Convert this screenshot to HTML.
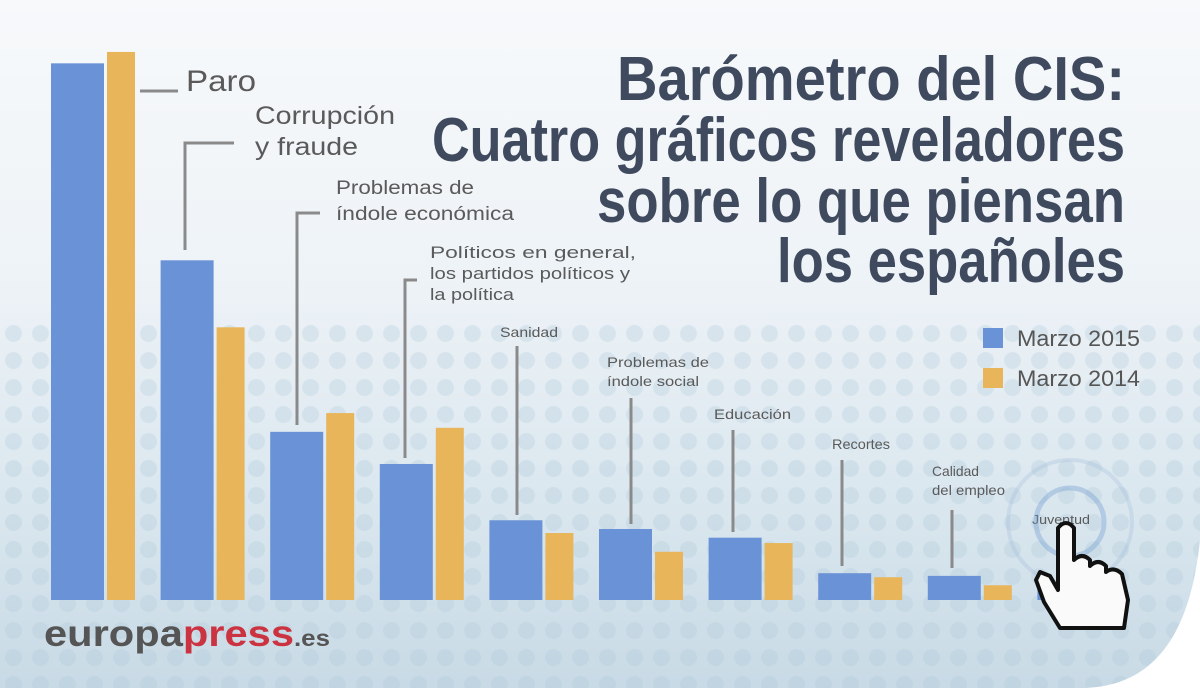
<!DOCTYPE html>
<html><head><meta charset="utf-8">
<style>
html,body{margin:0;padding:0;}
body{width:1200px;height:688px;overflow:hidden;position:relative;font-family:"Liberation Sans",sans-serif;
background:linear-gradient(180deg,#f7f9fb 0%,#eef3f7 40%,#d9e6ee 75%,#c8dae5 100%);}
#dots{position:absolute;left:0;top:320px;width:1200px;height:368px;
background-image:radial-gradient(circle,rgba(170,198,215,0.28) 8px,transparent 9px);background-size:27px 27px;}
svg{position:absolute;left:0;top:0;}
</style></head><body>
<div id="dots"></div>
<svg id="chart" width="1200" height="688">
 <path d="M1200,540 C1190,640 1150,688 1080,688 L1200,688 Z" fill="#ffffff"/>
 <g id="title" font-weight="bold" fill="#3f4a5e" font-size="62" lengthAdjust="spacingAndGlyphs">
  <text x="617" y="100" textLength="508" lengthAdjust="spacingAndGlyphs">Barómetro del CIS:</text>
  <text x="432" y="161" textLength="693" lengthAdjust="spacingAndGlyphs">Cuatro gráficos reveladores</text>
  <text x="597" y="222" textLength="528" lengthAdjust="spacingAndGlyphs">sobre lo que piensan</text>
  <text x="777" y="282" textLength="348" lengthAdjust="spacingAndGlyphs">los españoles</text>
 </g>
 <g id="bars"></g>
 <g id="labels" fill="#5a5a5a">
  <g stroke="#8a8a8a" stroke-width="3" fill="none">
   <path d="M140,91 H178"/>
   <path d="M185,250 V143 H234"/>
   <path d="M297,425 V213 H320"/>
   <path d="M405,458 V280 H417"/>
   <path d="M517,515 V346"/>
   <path d="M631,524 V398"/>
   <path d="M733,532 V430"/>
   <path d="M842,566 V460"/>
   <path d="M952,568 V510"/>
  </g>
  <text x="186" y="91" font-size="30" textLength="70" lengthAdjust="spacingAndGlyphs">Paro</text>
  <text x="255" y="124" font-size="25" textLength="140" lengthAdjust="spacingAndGlyphs">Corrupción</text>
  <text x="255" y="155" font-size="25" textLength="103" lengthAdjust="spacingAndGlyphs">y fraude</text>
  <text x="336" y="194" font-size="19" textLength="138" lengthAdjust="spacingAndGlyphs">Problemas de</text>
  <text x="336" y="220" font-size="19" textLength="178" lengthAdjust="spacingAndGlyphs">índole económica</text>
  <text x="430" y="258" font-size="17" textLength="206" lengthAdjust="spacingAndGlyphs">Políticos en general,</text>
  <text x="430" y="279" font-size="17" textLength="200" lengthAdjust="spacingAndGlyphs">los partidos políticos y</text>
  <text x="430" y="300" font-size="17" textLength="84" lengthAdjust="spacingAndGlyphs">la política</text>
  <text x="500" y="337" font-size="14" textLength="58" lengthAdjust="spacingAndGlyphs">Sanidad</text>
  <text x="607" y="367" font-size="14" textLength="102" lengthAdjust="spacingAndGlyphs">Problemas de</text>
  <text x="607" y="386" font-size="14" textLength="92" lengthAdjust="spacingAndGlyphs">índole social</text>
  <text x="714" y="419" font-size="14" textLength="77" lengthAdjust="spacingAndGlyphs">Educación</text>
  <text x="832" y="449" font-size="14" textLength="58" lengthAdjust="spacingAndGlyphs">Recortes</text>
  <text x="932" y="476" font-size="14" textLength="47" lengthAdjust="spacingAndGlyphs">Calidad</text>
  <text x="932" y="495" font-size="14" textLength="73" lengthAdjust="spacingAndGlyphs">del empleo</text>
  <text x="1032" y="524" font-size="13" textLength="58" lengthAdjust="spacingAndGlyphs">Juventud</text>
 </g>
 <g font-size="22" fill="#555">
  <rect x="983" y="328" width="20" height="20" fill="#6a92d6"/>
  <text x="1017" y="346" textLength="123" lengthAdjust="spacingAndGlyphs">Marzo 2015</text>
  <rect x="983" y="368" width="20" height="20" fill="#e8b55a"/>
  <text x="1017" y="386" textLength="123" lengthAdjust="spacingAndGlyphs">Marzo 2014</text>
 </g>
 <text x="44" y="646" font-size="37" font-weight="bold" textLength="286" lengthAdjust="spacingAndGlyphs"><tspan fill="#555">europa</tspan><tspan fill="#cc3340">press</tspan><tspan fill="#555" font-size="23">.es</tspan></text>
 <g>
  <circle cx="1070" cy="522" r="62" fill="none" stroke="rgba(150,180,215,0.25)" stroke-width="4"/>
  <circle cx="1070" cy="522" r="34" fill="none" stroke="rgba(120,160,210,0.4)" stroke-width="5"/>
  <path d="M1060,628 L1044,602 L1036,580 L1040,572 L1050,576 L1058,590 L1058,528 Q1066,518 1074,528 L1074,560 Q1082,552 1090,560 L1090,566 Q1098,558 1106,566 L1106,572 Q1114,566 1122,574 L1128,600 L1124,628 Z" fill="#fafafa" stroke="#111" stroke-width="4" stroke-linejoin="round"/>
 </g>
</svg>
<script>
const categories = ["Paro","Corrupción y fraude","Problemas de índole económica","Políticos","Sanidad","Problemas de índole social","Educación","Recortes","Calidad del empleo","Juventud"];
const marzo2015 = [80.1,50.7,25.1,20.3,11.9,10.6,9.3,4.0,3.6,1.8];
const marzo2014 = [81.8,40.7,27.9,25.7,10.0,7.2,8.5,3.4,2.2,1.2];
const baseY = 600, pxPerUnit = 6.7, x0 = 51, groupStep = 109.6;
function yScale(v){ return baseY - v * pxPerUnit; }
function xGroup(i){ return x0 + i * groupStep; }
const g = document.getElementById('bars');
const ns = 'http://www.w3.org/2000/svg';
categories.forEach((c, i) => {
  const b = document.createElementNS(ns, 'rect');
  b.setAttribute('x', xGroup(i)); b.setAttribute('width', 53);
  b.setAttribute('y', yScale(marzo2015[i])); b.setAttribute('height', baseY - yScale(marzo2015[i]));
  b.setAttribute('fill', '#6a92d6');
  
  
  g.appendChild(b);
  const y = document.createElementNS(ns, 'rect');
  y.setAttribute('x', xGroup(i) + 56); y.setAttribute('width', 28);
  y.setAttribute('y', yScale(marzo2014[i])); y.setAttribute('height', baseY - yScale(marzo2014[i]));
  y.setAttribute('fill', '#e8b55a');
  
  
  g.appendChild(y);
});
</script>
</body></html>
